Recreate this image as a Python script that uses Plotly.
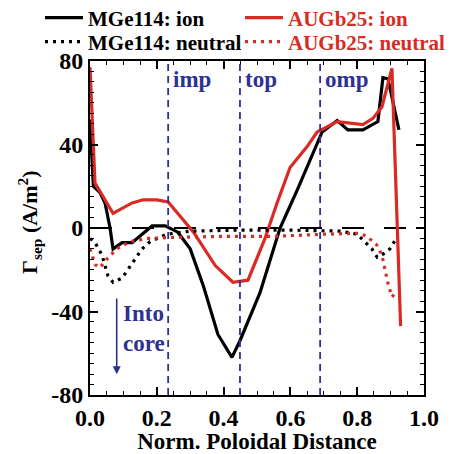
import plotly.graph_objects as go

# ---- data ----
mge_ion_x = [0.0, 0.01, 0.03, 0.045, 0.06, 0.069, 0.096, 0.126, 0.156, 0.186, 0.225, 0.263, 0.30, 0.34, 0.383, 0.425, 0.449, 0.509, 0.569, 0.62, 0.695, 0.74, 0.772, 0.817, 0.862, 0.877, 0.892, 0.925]
mge_ion_y = [52, 20, 17, 12, 0, -10, -7, -7, -3, 1, 1, -2, -10, -28, -51, -62, -54, -31, 0, 18, 46, 51.5, 47, 47, 51, 72, 71.5, 47]

aug_ion_x = [0.0, 0.015, 0.069, 0.126, 0.159, 0.20, 0.234, 0.263, 0.31, 0.375, 0.428, 0.473, 0.524, 0.56, 0.599, 0.65, 0.68, 0.74, 0.817, 0.847, 0.874, 0.904, 0.93]
aug_ion_y = [77, 21.5, 7, 12, 13.5, 13.5, 12.5, 7, -2, -18, -26, -25, -5, 12, 29, 39, 46, 51, 49.5, 52.5, 58, 76.5, -47]

mge_neu_x = [0.0, 0.015, 0.036, 0.054, 0.069, 0.096, 0.126, 0.156, 0.18, 0.23, 0.30, 0.45, 0.60, 0.75, 0.80, 0.823, 0.844, 0.86, 0.883, 0.898, 0.913]
mge_neu_y = [-5, -7, -13, -23, -26, -24, -17, -10, -6.5, -3, -1.5, -1, -1, -1.5, -3, -6.5, -10, -14, -12, -10, -6]

aug_neu_x = [0.0, 0.006, 0.015, 0.03, 0.05, 0.08, 0.12, 0.17, 0.25, 0.40, 0.55, 0.70, 0.78, 0.803, 0.829, 0.858, 0.874, 0.883, 0.892, 0.904, 0.918]
aug_neu_y = [-10, -13, -17.5, -19, -15, -10, -6.5, -5, -4.5, -4, -4, -3, -2.5, -2.5, -4, -8, -13, -19.5, -26.5, -33, -30.5]

region_x = [0.234, 0.449, 0.689]
region_labels = ["imp", "top", "omp"]

x_tickvals = [0.0, 0.2, 0.4, 0.6, 0.8, 1.0]
x_ticktext = ["0.0", "0.2", "0.4", "0.6", "0.8", "1.0"]
y_tickvals = [-80, -40, 0, 40, 80]
y_ticktext = ["-80", "-40", "0", "40", "80"]

BLACK = "#000000"
RED = "#d92b24"
NAVY = "#2e3192"
FONT = "Liberation Serif"

W, H = 453, 446
ML, MR, MT, MB = 82, 37, 53, 59
PW, PH = W - ML - MR, H - MT - MB

def px_x(px):  # figure pixel -> paper x
    return (px - ML) / PW

def px_y(py):  # figure pixel -> paper y
    return (H - MB - py) / PH

fig = go.Figure()
fig.add_trace(go.Scatter(x=mge_ion_x, y=mge_ion_y, mode="lines",
                         line=dict(color=BLACK, width=3.2),
                         name="<b>MGe114: ion</b>", legend="legend"))
fig.add_trace(go.Scatter(x=aug_ion_x, y=aug_ion_y, mode="lines",
                         line=dict(color=RED, width=3.2),
                         name="<b>AUGb25: ion</b>", legend="legend2"))
fig.add_trace(go.Scatter(x=mge_neu_x, y=mge_neu_y, mode="lines",
                         line=dict(color=BLACK, width=3.2, dash="3px,5px"),
                         name="<b>MGe114: neutral</b>", legend="legend3"))
fig.add_trace(go.Scatter(x=aug_neu_x, y=aug_neu_y, mode="lines",
                         line=dict(color=RED, width=3.2, dash="3px,5px"),
                         name="<b>AUGb25: neutral</b>", legend="legend4"))

# zero line
fig.add_shape(type="line", xref="x", yref="y", x0=0, x1=1, y0=0, y1=0,
              line=dict(color=BLACK, width=1.8, dash="22px,20px"), layer="below")

# region dashed lines and labels
for xv, lab in zip(region_x, region_labels):
    fig.add_shape(type="line", xref="x", yref="y", x0=xv, x1=xv, y0=-80, y1=80,
                  line=dict(color=NAVY, width=1.8, dash="7px,5px"))
    fig.add_annotation(x=xv, y=71, xref="x", yref="y", text=f"<b>{lab}</b>",
                       showarrow=False, xanchor="left", yanchor="middle", xshift=3,
                       font=dict(family=FONT, size=23, color=NAVY))

# "Into core" arrow and text
fig.add_annotation(x=0.08, y=-70, ax=0.08, ay=-33, xref="x", yref="y",
                   axref="x", ayref="y", text="", showarrow=True,
                   arrowhead=2, arrowsize=1, arrowwidth=1.6, arrowcolor=NAVY)
fig.add_annotation(x=0.092, y=-48, xref="x", yref="y", text="<b>Into<br>core</b>",
                   showarrow=False, xanchor="left", yanchor="middle", align="left",
                   font=dict(family=FONT, size=23, color=NAVY))

# y-axis title as rotated annotation for exact placement
fig.add_annotation(x=px_x(21), y=px_y(214), xref="paper", yref="paper",
                   text="<b>Γ<sub>sep</sub> (A/m<sup>2</sup>)</b>", textangle=-90,
                   showarrow=False, xanchor="center", yanchor="middle",
                   font=dict(family=FONT, size=22, color=BLACK))

axis_common = dict(showline=True, linecolor=BLACK, linewidth=2, mirror="ticks",
                   ticks="inside", ticklen=8, tickwidth=1.5, tickcolor=BLACK,
                   showgrid=False, zeroline=False, automargin=False,
                   tickfont=dict(family=FONT, size=24, color=BLACK))

fig.update_xaxes(range=[0, 1], tickvals=x_tickvals, ticktext=[f"<b>{t}</b>" for t in x_ticktext],
                 minor=dict(dtick=0.05, ticks="inside", ticklen=4, tickwidth=1.2, tickcolor=BLACK),
                 title=dict(text="<b>Norm. Poloidal Distance</b>", font=dict(family=FONT, size=23, color=BLACK), standoff=4),
                 **axis_common)
fig.update_yaxes(range=[-80, 80], tickvals=y_tickvals, ticktext=[f"<b>{t}</b>" for t in y_ticktext],
                 minor=dict(dtick=5, ticks="inside", ticklen=4, tickwidth=1.2, tickcolor=BLACK),
                 **axis_common)

def leg(xpx, ypx, color):
    return dict(orientation="v", xanchor="left", yanchor="middle",
                x=px_x(xpx), y=px_y(ypx), itemwidth=38,
                bgcolor="rgba(0,0,0,0)", borderwidth=0,
                font=dict(family=FONT, size=21, color=color))

fig.update_layout(
    width=W, height=H,
    margin=dict(l=ML, r=MR, t=MT, b=MB, autoexpand=False),
    paper_bgcolor="white", plot_bgcolor="white",
    font=dict(family=FONT, color=BLACK),
    showlegend=True,
    legend=leg(32, 10, BLACK),
    legend2=leg(232, 10, RED),
    legend3=leg(32, 34, BLACK),
    legend4=leg(232, 34, RED),
)

fig.write_html("out.html")
